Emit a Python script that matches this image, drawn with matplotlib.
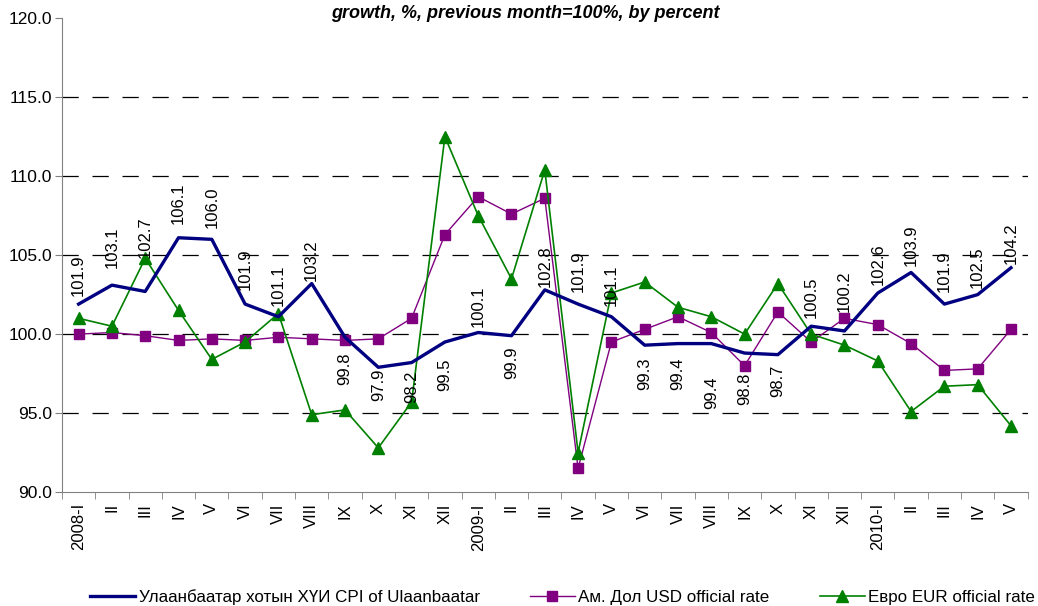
import numpy as np
import matplotlib
matplotlib.use("Agg")
import matplotlib.pyplot as plt

plt.rcParams['font.family'] = ['Liberation Sans', 'DejaVu Sans']

months = ["2008-I", "II", "III", "IV", "V", "VI", "VII", "VIII", "IX", "X", "XI", "XII",
          "2009-I", "II", "III", "IV", "V", "VI", "VII", "VIII", "IX", "X", "XI", "XII",
          "2010-I", "II", "III", "IV", "V"]

cpi_ub = [101.9, 103.1, 102.7, 106.1, 106.0, 101.9, 101.1, 103.2, 99.8, 97.9, 98.2, 99.5,
          100.1, 99.9, 102.8, 101.9, 101.1, 99.3, 99.4, 99.4, 98.8, 98.7, 100.5, 100.2,
          102.6, 103.9, 101.9, 102.5, 104.2]

usd_rate = [100.0, 100.1, 99.9, 99.6, 99.7, 99.6, 99.8, 99.7, 99.6, 99.7, 101.0, 106.3,
            108.7, 107.6, 108.6, 91.5, 99.5, 100.3, 101.1, 100.1, 98.0, 101.4, 99.5, 101.0,
            100.6, 99.4, 97.7, 97.8, 100.3]

eur_rate = [101.0, 100.5, 104.8, 101.5, 98.4, 99.5, 101.3, 94.9, 95.2, 92.8, 95.7, 112.5,
            107.5, 103.5, 110.4, 92.5, 102.6, 103.3, 101.7, 101.1, 100.0, 103.2, 100.0, 99.3,
            98.3, 95.1, 96.7, 96.8, 94.2]

series_names = ["Улаанбаатар хотын ХҮИ CPI of Ulaanbaatar",
                "Ам. Дол USD official rate",
                "Евро EUR official rate"]

# gap between point and label (points), label above if >=100 else below
label_gap = [6, 12, 24, 10, 8, 10, 8, 2, 11, 1, 6, 12,
             4, 8, 2, 9, 8, 9, 10, 24, 14, 7, 6, 14,
             6, 5, 9, 5, 3]

fig = plt.figure(figsize=(10.38, 6.06), dpi=100)
ax = fig.add_axes([0.0597, 0.188, 0.9303, 0.782])

x = np.arange(len(months))
ax.plot(x, cpi_ub, color="#000080", lw=2.4, label=series_names[0], zorder=4)
ax.plot(x, usd_rate, color="#800080", lw=1.0, marker="s", ms=7, label=series_names[1], zorder=3)
ax.plot(x, eur_rate, color="#008000", lw=1.2, marker="^", ms=8, label=series_names[2], zorder=3)

for i, v in enumerate(cpi_ub):
    if v >= 100:
        ax.annotate("%.1f" % v, (i, v), xytext=(0, label_gap[i]), textcoords="offset points",
                    rotation=90, ha="center", va="bottom", fontsize=12, zorder=6)
    else:
        ax.annotate("%.1f" % v, (i, v), xytext=(0, -label_gap[i]), textcoords="offset points",
                    rotation=90, ha="center", va="top", fontsize=12, zorder=6)

ax.set_ylim(90, 120)
ax.set_xlim(-0.5, len(months) - 0.5)
ax.set_yticks(np.arange(90, 121, 5))
ax.set_yticklabels(["%.1f" % t for t in np.arange(90, 121, 5)], fontsize=12.5)
for g in [95, 100, 105, 110, 115]:
    ax.axhline(g, color="black", lw=0.9, dashes=(13, 11), zorder=1)

ax.set_xticks(x)
ax.set_xticklabels(months, rotation=90, fontsize=12)
ax.set_xticks(np.arange(len(months) + 1) - 0.5, minor=True)
ax.tick_params(axis="x", which="major", length=0, pad=8)
ax.tick_params(axis="x", which="minor", length=5, color="#808080")
ax.tick_params(axis="y", length=5, color="#808080", pad=2)

for s in ["top", "right"]:
    ax.spines[s].set_visible(False)
for s in ["left", "bottom"]:
    ax.spines[s].set_color("#808080")

fig.text(0.506, 0.977, "growth, %, previous month=100%, by percent", ha="center", va="center",
         fontsize=13, fontweight="bold", fontstyle="italic")

fig.legend(loc="center", bbox_to_anchor=(0.542, 0.015), ncol=3, frameon=False, fontsize=12.25,
           handlelength=2.65, columnspacing=2.95, handletextpad=0.2)

fig.savefig("out.png", dpi=100)
